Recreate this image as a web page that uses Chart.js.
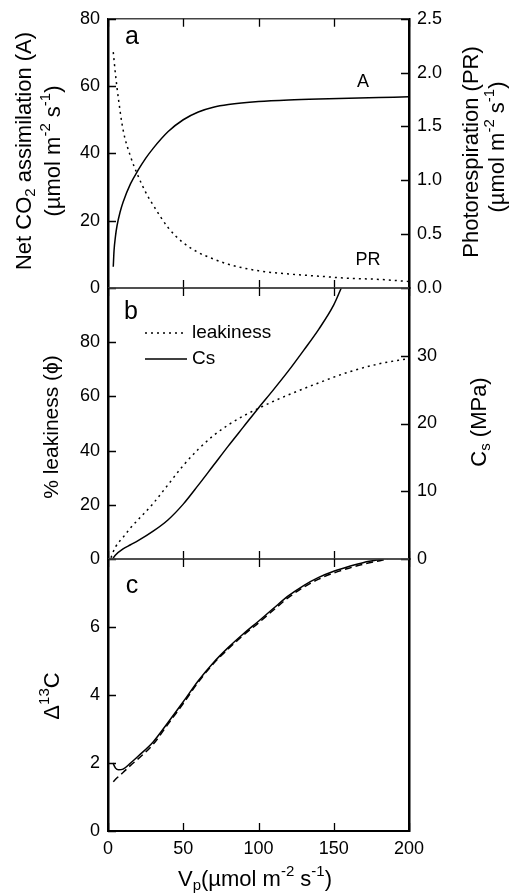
<!DOCTYPE html>
<html>
<head>
<meta charset="utf-8">
<script src="https://cdn.jsdelivr.net/npm/chart.js@4.4.0/dist/chart.umd.min.js"></script>
<style>
  html, body { margin: 0; padding: 0; background: #fff; }
  #wrap { position: relative; width: 513px; height: 895px; }
  #wrap canvas { position: absolute; left: 0; top: 0; }
</style>
</head>
<body>
<div id="wrap">
  <canvas id="panelA" width="513" height="895"></canvas>
  <canvas id="panelB" width="513" height="895"></canvas>
  <canvas id="panelC" width="513" height="895"></canvas>
</div>
<script>
// --- data ---
// panel a: net assimilation (left axis) and photorespiration (right axis)
const vpA = [3.5, 4, 5, 6, 8, 10, 15, 20, 25, 30, 40, 50, 60, 70, 80, 100, 120, 140, 160, 180, 200];
const assim = [6.3, 11, 15.5, 18.5, 22.5, 25.5, 31, 35, 38.5, 41.5, 46.5, 50, 52.3, 53.7, 54.5, 55.4, 55.9, 56.2, 56.4, 56.6, 56.8];
const vpPR = [3.5, 5, 7, 10, 15, 20, 25, 30, 40, 50, 60, 70, 80, 100, 120, 140, 160, 180, 200];
const photoresp = [2.19, 1.98, 1.75, 1.47, 1.22, 1.04, 0.89, 0.77, 0.56, 0.42, 0.33, 0.27, 0.22, 0.16, 0.13, 0.11, 0.09, 0.08, 0.06];

// panel b: leakiness (%) and Cs (MPa)
const vpLeak = [2, 3.5, 5, 10, 15, 20, 30, 40, 50, 60, 70, 80, 90, 100, 110, 120, 140, 160, 180, 200];
const leakiness = [0.5, 2.7, 4.5, 8, 11.5, 14.5, 20.5, 27.5, 34.5, 40.5, 45.5, 49.5, 52.8, 55.6, 58.2, 60.6, 65, 69, 72, 74];
const vpCs = [3, 5, 10, 15, 20, 30, 40, 50, 60, 70, 80, 90, 100, 110, 120, 130, 140, 150, 155];
const cs = [0, 0.6, 1.5, 2.1, 2.7, 4.1, 5.8, 8.1, 10.9, 13.8, 16.7, 19.5, 22.3, 25.0, 27.8, 30.8, 33.9, 37.5, 40];

// panel c: carbon isotope discrimination, two model curves
const vpD1 = [3.3, 5, 7, 10, 15, 20, 30, 40, 50, 60, 70, 80, 90, 100, 110, 120, 130, 140, 150, 160, 170, 183];
const delta1 = [2.0, 1.85, 1.8, 1.82, 2.0, 2.2, 2.62, 3.2, 3.8, 4.42, 4.95, 5.4, 5.8, 6.17, 6.55, 6.92, 7.22, 7.46, 7.64, 7.78, 7.9, 8.0];
const vpD2 = [3.5, 5, 10, 15, 20, 30, 40, 50, 60, 70, 80, 90, 100, 110, 120, 130, 140, 150, 160, 170, 186];
const delta2 = [1.45, 1.52, 1.72, 1.93, 2.12, 2.55, 3.15, 3.75, 4.38, 4.92, 5.36, 5.76, 6.12, 6.5, 6.87, 7.17, 7.41, 7.59, 7.73, 7.85, 8.0];

// --- layout ---
const FONT = "'Liberation Sans', Arial, Helvetica, sans-serif";
const W = 513, H = 895;
const PLOT_L = 108, PLOT_R = 409;
const Y_TOP = 16, Y_AB = 288, Y_BC = 559, Y_BOT = 831;

Chart.defaults.font.family = FONT;
Chart.defaults.color = '#000';

const series = (label, xs, ys, axis, dash) => ({
    label: label,
    data: xs.map((x, i) => ({ x: x, y: ys[i] })),
    yAxisID: axis,
    borderColor: '#000',
    borderWidth: 1.5,
    borderDash: dash || [],
    pointRadius: 0,
    cubicInterpolationMode: 'monotone',
    fill: false
});

const xScale = (show) => ({
    type: 'linear', min: 0, max: 200, display: show,
    grid: { display: false, drawTicks: false },
    border: { display: false },
    ticks: { stepSize: 50, padding: 7, font: { size: 18 }, maxRotation: 0 },
    afterFit: s => { s.height = show ? H - Y_BOT : 0; }
});

const yScale = (pos, min, max, step, hideTop, fmt, showTicks = true) => ({
    type: 'linear', position: pos, min: min, max: max,
    grid: { display: false, drawTicks: false },
    border: { display: true, color: '#000', width: 2.5 },
    ticks: {
        display: showTicks, stepSize: step, padding: 8, font: { size: 18 },
        callback: v => (hideTop && v === max) ? null : fmt(v)
    },
    afterFit: s => { s.width = pos === 'left' ? PLOT_L : W - PLOT_R; }
});

// text with sub/superscripts, optionally rotated to read bottom-to-top
function drawRich(ctx, parts, x, y, size, rot, baseline) {
    const fontOf = k => `${k ? Math.round(size * 0.7) : size}px ${FONT}`;
    let w = 0;
    parts.forEach(([t, k]) => { ctx.font = fontOf(k); w += ctx.measureText(t).width; });
    ctx.save();
    ctx.translate(x, y);
    if (rot) ctx.rotate(-Math.PI / 2);
    ctx.textBaseline = baseline || 'middle';
    ctx.textAlign = 'left';
    ctx.fillStyle = '#000';
    let cx = -w / 2;
    parts.forEach(([t, k]) => {
        ctx.font = fontOf(k);
        const dy = k === 'sup' ? -size * 0.36 : k === 'sub' ? size * 0.26 : 0;
        ctx.fillText(t, cx, dy);
        cx += ctx.measureText(t).width;
    });
    ctx.restore();
}

// frame lines and inward tick marks
const framePlugin = {
    id: 'frame',
    afterDraw(chart, args, opts) {
        const { ctx, chartArea: a } = chart;
        ctx.save();
        ctx.lineWidth = 1.5;
        ctx.strokeStyle = '#444';
        ctx.beginPath();
        ctx.moveTo(a.left, a.top); ctx.lineTo(a.right, a.top);
        ctx.stroke();
        ctx.strokeStyle = opts.bottomColor || '#444';
        ctx.lineWidth = opts.bottomWidth || 1.5;
        ctx.beginPath();
        ctx.moveTo(a.left, a.bottom); ctx.lineTo(a.right, a.bottom);
        ctx.stroke();

        ctx.strokeStyle = '#000';
        ctx.lineWidth = 1.3;
        ctx.beginPath();
        const xs = chart.scales.x;
        xs.ticks.forEach(t => {
            const px = Math.round(xs.getPixelForValue(t.value)) + 0.5;
            ctx.moveTo(px, a.top); ctx.lineTo(px, a.top + 8);
            ctx.moveTo(px, a.bottom); ctx.lineTo(px, a.bottom - 8);
        });
        Object.values(chart.scales).forEach(s => {
            if (s.axis !== 'y' || !s.options.ticks.display) return;
            s.ticks.forEach(t => {
                const py = Math.round(s.getPixelForValue(t.value)) + 0.5;
                if (s.position === 'left') { ctx.moveTo(a.left, py); ctx.lineTo(a.left + 8, py); }
                else { ctx.moveTo(a.right, py); ctx.lineTo(a.right - 8, py); }
            });
        });
        ctx.stroke();
        ctx.restore();
    }
};

// panel letters, axis titles, curve labels, legend
const notesPlugin = {
    id: 'notes',
    afterDraw(chart, args, opts) {
        const ctx = chart.ctx;
        (opts.items || []).forEach(it => drawRich(ctx, it.parts, it.x, it.y, it.size, it.rot, it.baseline));
        (opts.legend || []).forEach(lg => {
            const ds = chart.data.datasets[lg.index];
            ctx.save();
            ctx.strokeStyle = ds.borderColor;
            ctx.lineWidth = ds.borderWidth;
            ctx.setLineDash(ds.borderDash);
            ctx.beginPath();
            ctx.moveTo(lg.x0, lg.y); ctx.lineTo(lg.x1, lg.y);
            ctx.stroke();
            ctx.restore();
            ctx.save();
            ctx.font = `19px ${FONT}`;
            ctx.fillStyle = '#000';
            ctx.textBaseline = 'middle';
            ctx.textAlign = 'left';
            ctx.fillText(ds.label, lg.x1 + 5, lg.y);
            ctx.restore();
        });
    }
};

const unit = [['(\u00b5mol m', ''], ['-2', 'sup'], [' s', ''], ['-1', 'sup'], [')', '']];

const baseOptions = (padTop, padBottom, scales, frame, notes) => ({
    responsive: false,
    animation: false,
    devicePixelRatio: 1,
    events: [],
    layout: { padding: { left: 0, right: 0, top: padTop, bottom: padBottom } },
    scales: scales,
    plugins: { legend: { display: false }, tooltip: { enabled: false }, frame: frame, notes: notes }
});

const fmt0 = v => String(v);
const fmt1 = v => v.toFixed(1);

// --- panel a ---
new Chart(document.getElementById('panelA'), {
    type: 'line',
    data: {
        datasets: [
            series('A', vpA, assim, 'yL'),
            series('PR', vpPR, photoresp, 'yR', [2, 4])
        ]
    },
    options: baseOptions(Y_TOP, H - Y_AB, {
        x: xScale(false),
        yL: yScale('left', 0, 80, 20, false, fmt0),
        yR: yScale('right', 0, 2.5, 0.5, false, fmt1)
    }, {}, {
        items: [
            { parts: [['a', '']], x: 132, y: 44, size: 25, baseline: 'alphabetic' },
            { parts: [['A', '']], x: 363, y: 87, size: 18, baseline: 'alphabetic' },
            { parts: [['PR', '']], x: 368, y: 265, size: 18, baseline: 'alphabetic' },
            { parts: [['Net CO', ''], ['2', 'sub'], [' assimilation (A)', '']], x: 25, y: 151, size: 22, rot: true },
            { parts: unit, x: 54, y: 151, size: 22, rot: true },
            { parts: [['Photorespiration (PR)', '']], x: 472, y: 152, size: 22, rot: true },
            { parts: unit, x: 498, y: 147, size: 22, rot: true }
        ]
    }),
    plugins: [framePlugin, notesPlugin]
});

// --- panel b ---
new Chart(document.getElementById('panelB'), {
    type: 'line',
    data: {
        datasets: [
            series('leakiness', vpLeak, leakiness, 'yL', [2, 4]),
            series('Cs', vpCs, cs, 'yR')
        ]
    },
    options: baseOptions(Y_AB, H - Y_BC, {
        x: xScale(false),
        yL: yScale('left', 0, 100, 20, true, fmt0),
        yR: yScale('right', 0, 40, 10, true, fmt0)
    }, {}, {
        items: [
            { parts: [['b', '']], x: 131, y: 319, size: 25, baseline: 'alphabetic' },
            { parts: [['% leakiness (\u03d5)', '']], x: 52, y: 427, size: 21, rot: true },
            { parts: [['C', ''], ['s', 'sub'], [' (MPa)', '']], x: 480, y: 422, size: 22, rot: true }
        ],
        legend: [
            { index: 0, x0: 145, x1: 187, y: 333 },
            { index: 1, x0: 145, x1: 187, y: 359 }
        ]
    }),
    plugins: [framePlugin, notesPlugin]
});

// --- panel c ---
new Chart(document.getElementById('panelC'), {
    type: 'line',
    data: {
        datasets: [
            series('model', vpD1, delta1, 'yL'),
            series('approximation', vpD2, delta2, 'yL', [7, 4])
        ]
    },
    options: baseOptions(Y_BC, 0, {
        x: xScale(true),
        yL: yScale('left', 0, 8, 2, true, fmt0),
        yR: yScale('right', 0, 1, 1, false, fmt0, false)
    }, { bottomColor: '#000', bottomWidth: 2 }, {
        items: [
            { parts: [['c', '']], x: 132, y: 593, size: 25, baseline: 'alphabetic' },
            { parts: [['\u0394', ''], ['13', 'sup'], ['C', '']], x: 53, y: 696, size: 22, rot: true },
            { parts: [['V', ''], ['p', 'sub'], ['(\u00b5mol m', ''], ['-2', 'sup'], [' s', ''], ['-1', 'sup'], [')', '']], x: 255, y: 880, size: 22 }
        ]
    }),
    plugins: [framePlugin, notesPlugin]
});
</script>
</body>
</html>
